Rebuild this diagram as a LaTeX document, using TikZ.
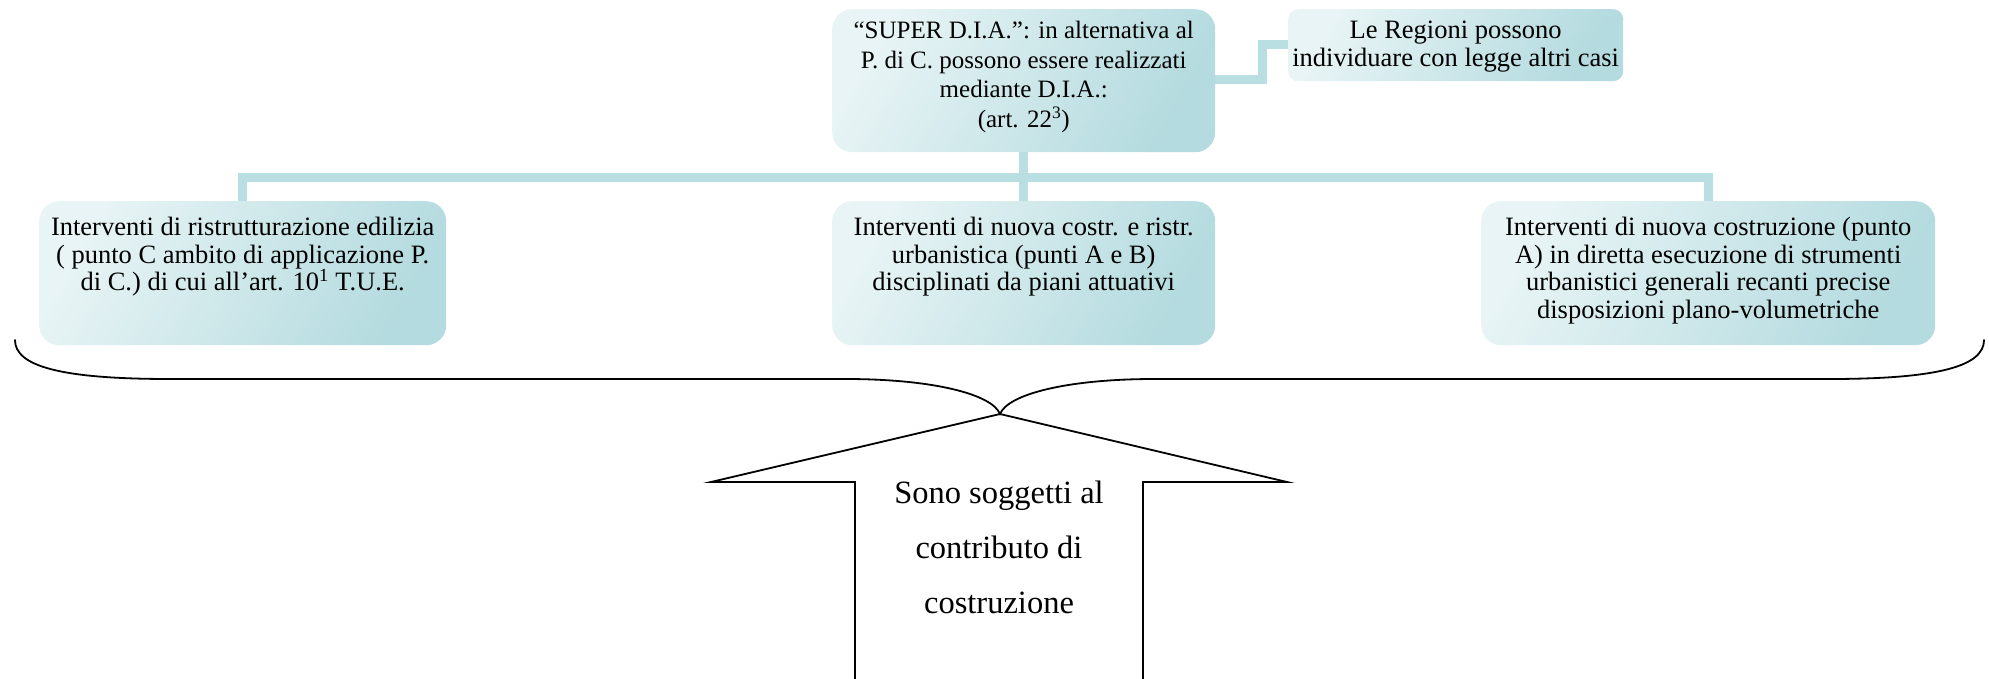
\documentclass[tikz,border=0pt]{standalone}
\usepackage{fontspec}
\setmainfont{Liberation Serif}
\usetikzlibrary{backgrounds}
\definecolor{boxlight}{HTML}{E8F4F5}
\definecolor{boxdark}{HTML}{B4DBDF}
\definecolor{linkc}{HTML}{B9DFE2}
\tikzset{
  box/.style={rectangle, rounded corners=20pt, inner sep=0pt,
    top color=boxlight, bottom color=boxdark, shading angle=60},
  smallbox/.style={box, rounded corners=10pt},
  boxtext/.style={inner sep=0pt, align=center, font=\fontsize{26.5}{27.5}\selectfont},
  link/.style={draw=linkc, line width=9pt},
  outline/.style={draw=black, line width=1.8pt},
}
\begin{document}
\begin{tikzpicture}[x=1pt,y=-1pt]
\useasboundingbox (0,0) rectangle (1989,678);
% boxes
\node[box, minimum width=383pt, minimum height=143pt, anchor=north west] (top) at (832,9) {};
\node[smallbox, minimum width=335pt, minimum height=72pt, anchor=north west] (reg) at (1288,9) {};
\node[box, minimum width=407pt, minimum height=144pt, anchor=north west] (left) at (39,201) {};
\node[box, minimum width=383pt, minimum height=144pt, anchor=north west] (mid) at (832,201) {};
\node[box, minimum width=454pt, minimum height=144pt, anchor=north west] (right) at (1481,201) {};
% texts
\node[boxtext, font=\fontsize{25}{29.5}\selectfont, anchor=north] (toptext) at ([yshift=-12pt]top.north)
  {“SUPER D.I.A.”: in alternativa al\\P. di C. possono essere realizzati\\mediante D.I.A.:\\(art. 22\textsuperscript{3})};
\node[boxtext, font=\fontsize{26.5}{28}\selectfont, anchor=north] (regtext) at ([yshift=-11.5pt]reg.north)
  {Le Regioni possono\\individuare con legge altri casi};
\node[boxtext, anchor=north] (lefttext) at ([yshift=-16pt]left.north)
  {Interventi di ristrutturazione edilizia\\( punto C ambito di applicazione P.\\di C.) di cui all’art. 10\textsuperscript{1} T.U.E.};
\node[boxtext, anchor=north] (midtext) at ([yshift=-16pt]mid.north)
  {Interventi di nuova costr. e ristr.\\urbanistica (punti A e B)\\disciplinati da piani attuativi};
\node[boxtext, anchor=north] (righttext) at ([yshift=-16pt]right.north)
  {Interventi di nuova costruzione (punto\\A) in diretta esecuzione di strumenti\\urbanistici generali recanti precise\\disposizioni plano-volumetriche};
% connectors
\coordinate (bar) at (1023,177);
\coordinate (elbowA) at (1262,79);
\coordinate (elbowB) at (1262,44);
\begin{scope}[on background layer]
\draw[link] (top.east |- elbowA) -- (elbowA) -- (elbowB) -- (reg.west |- elbowB);
\draw[link] (top.south) -- (mid.north);
\draw[link] (left.north) -- (left.north |- bar) -- (right.north |- bar) -- (right.north);
\end{scope}
% brace
\coordinate (tip) at (1000,414);
\draw[outline, line cap=round] (15,340) .. controls (15,366) and (60,379) .. (170,379)
  -- (846,379) .. controls (932,379) and (992,394) .. (tip)
  .. controls (1008,394) and (1068,379) .. (1154,379)
  -- (1829,379) .. controls (1939,379) and (1984,366) .. (1984,340);
% arrow
\draw[outline, line join=miter] (855,690) -- (855,482) -- (711,482) -- (tip) -- (1287,482) -- (1143,482) -- (1143,690);
\node[align=center, inner sep=0pt, font=\fontsize{32.5}{55}\selectfont, anchor=north] (arrtext) at (999,481)
  {Sono soggetti al\\contributo di\\costruzione};
\end{tikzpicture}
\end{document}
